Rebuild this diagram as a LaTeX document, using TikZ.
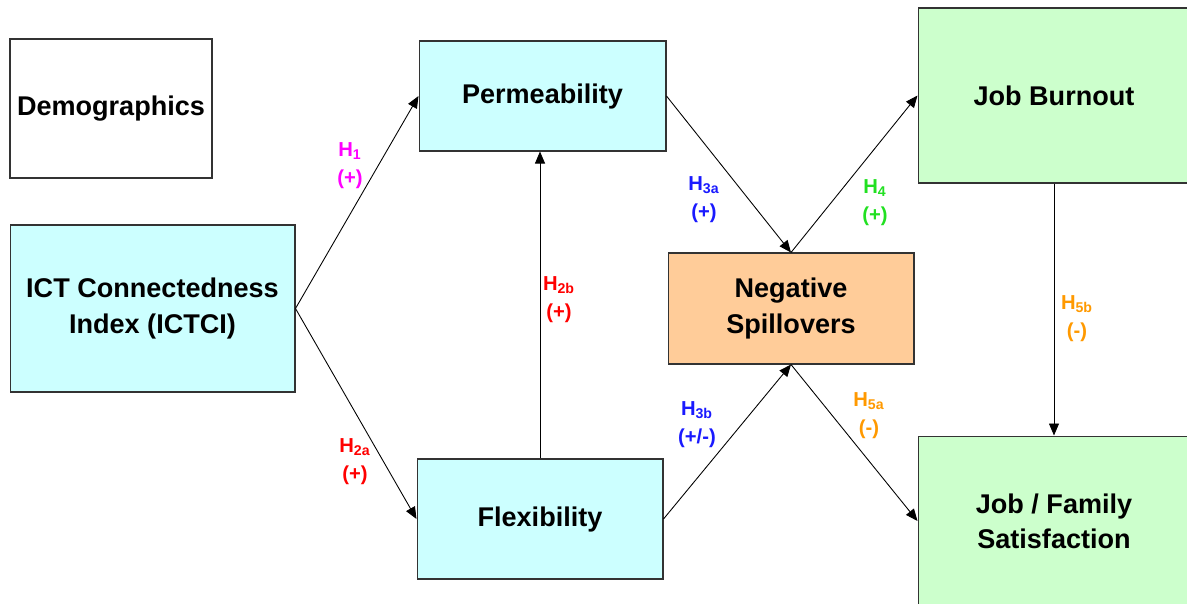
\documentclass[tikz,border=0pt]{standalone}
\usepackage{fontspec}
\setmainfont{Liberation Sans}
\usepackage{xcolor}
\usetikzlibrary{positioning, arrows.meta, calc}

\definecolor{boxcyan}{HTML}{CCFFFF}
\definecolor{boxorange}{HTML}{FFCC99}
\definecolor{boxgreen}{HTML}{CCFFCC}
\definecolor{hmagenta}{HTML}{FF00FF}
\definecolor{hred}{HTML}{FF0000}
\definecolor{hblue}{HTML}{1A1AFF}
\definecolor{hgreen}{HTML}{22E022}
\definecolor{horange}{HTML}{FF9900}

\begin{document}
\begin{tikzpicture}[x=0.02cm, y=-0.02cm,
    box/.style={draw=black!80, line width=0.6pt, align=center, inner sep=0pt,
      font=\fontsize{15.4}{20}\selectfont\bfseries},
    hyp/.style={align=center, inner sep=0pt, font=\fontsize{11.5}{16}\selectfont\bfseries},
    link/.style={-{Triangle[length=2.4mm, width=2mm]}, line width=0.5pt}]
      \useasboundingbox (0,0) rectangle (1187,603);
      % constructs
      \node[box, fill=white, minimum width=4.04cm, minimum height=2.78cm] (demo) at (111,108.5) {Demographics};
      \node[box, fill=boxcyan, minimum width=5.7cm, minimum height=3.34cm] (ictci) at (152.5,308.5) {ICT Connectedness\\Index (ICTCI)};
      \node[box, fill=boxcyan, minimum width=4.94cm, minimum height=2.2cm] (perm) at (542.5,96) {Permeability};
      \node[box, fill=boxcyan, minimum width=4.92cm, minimum height=2.4cm] (flex) at (540,519) {Flexibility};
      \node[box, fill=boxorange, minimum width=4.92cm, minimum height=2.22cm] (neg) at (791,308.5) {Negative\\Spillovers};
      \node[box, fill=boxgreen, minimum width=5.44cm, minimum height=3.5cm] (burn) at (1054,95.5) {Job Burnout};
      \node[box, fill=boxgreen, minimum width=5.44cm, minimum height=3.4cm] (sat) at (1054,521) {Job / Family\\Satisfaction};
      % paths
      \draw[link] (ictci.east) -- (perm.west);
      \draw[link] (ictci.east) -- (flex.west);
      \draw[link] (flex.north) -- (flex.north |- perm.south);
      \draw[link] (perm.east) -- (neg.north);
      \draw[link] (flex.east) -- (neg.south);
      \draw[link] (neg.north) -- (burn.west);
      \draw[link] (neg.south) -- (sat.west);
      \draw[link] (burn.south) -- (sat.north);
      % hypotheses
      \foreach \n/\x/\y/\c/\s/\t in {h1/350/166/hmagenta/1/(+), h2a/355/462/hred/2a/(+),
          h2b/559/300/hred/2b/(+), h3a/704/200/hblue/3a/(+), h3b/697/425/hblue/3b/{(+/-)},
          h4/875/203/hgreen/4/(+), h5a/869/416/horange/5a/(-), h5b/1077/319/horange/5b/(-)}{
        \node[hyp, text=\c] (\n) at (\x,\y) {H\textsubscript{\s}\\\t};
      }
    \end{tikzpicture}
\end{document}
